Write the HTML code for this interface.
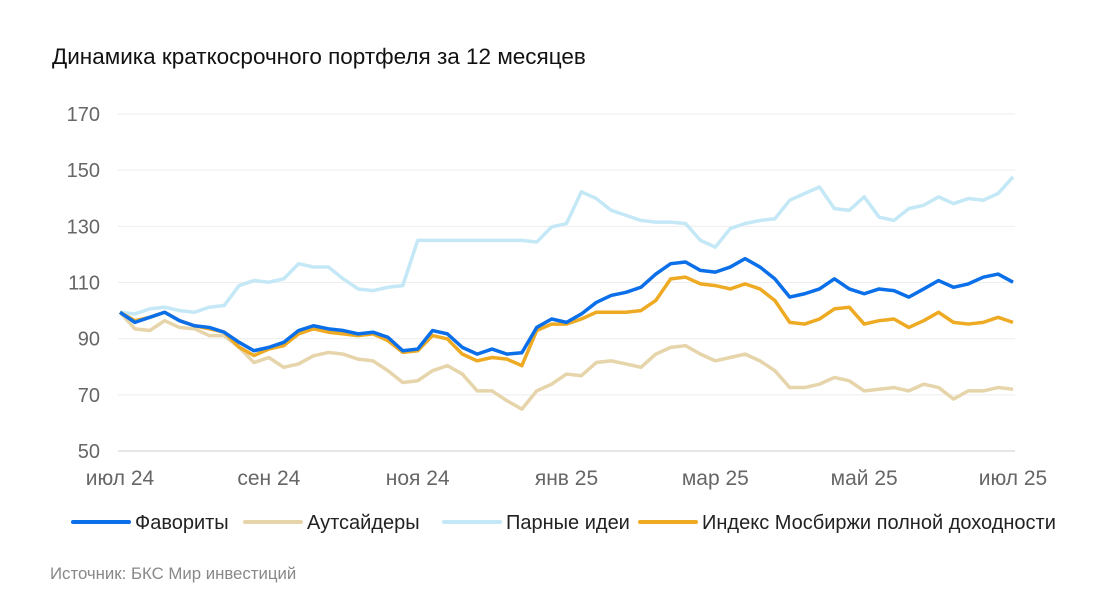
<!DOCTYPE html>
<html><head><meta charset="utf-8"><style>
body{margin:0;background:#fff;font-family:"Liberation Sans",sans-serif;}
svg{display:block}
</style></head><body>
<svg width="1095" height="612">
<text x="52" y="64" font-size="22.5" fill="#111">Динамика краткосрочного портфеля за 12 месяцев</text>
<g id="grid"></g><g id="lines"></g><g id="labels"></g>
<g id="legend"></g>
<text x="50" y="579" font-size="16.8" fill="#888">Источник: БКС Мир инвестиций</text>
</svg>
<script>
const yTicks=[50,70,90,110,130,150,170];
const xTickLabels=["июл 24","сен 24","ноя 24","янв 25","мар 25","май 25","июл 25"];
const favorites=[99.4,95.8,97.6,99.4,96.4,94.6,94,92.3,88.7,85.7,86.9,88.7,92.9,94.6,93.5,92.9,91.7,92.3,90.5,85.7,86.3,92.9,91.7,86.9,84.5,86.3,84.5,85,94,97,95.8,98.8,102.9,105.4,106.5,108.3,113,116.7,117.3,114.3,113.7,115.5,118.5,115.5,111.3,104.8,106,107.7,111.3,107.7,106,107.7,107.1,104.8,107.7,110.7,108.3,109.5,111.9,113,110.1];
const index=[99.4,96.4,97.6,99.4,96.4,94.6,93.5,92.3,87,84,86.3,87.5,91.7,93.5,92.3,91.7,91.1,91.7,89.3,85.1,85.7,91.1,89.9,84.5,82.1,83.3,82.7,80.4,92.9,95.2,95.2,97,99.4,99.4,99.4,100,103.6,111.3,111.9,109.5,108.9,107.7,109.5,107.7,103.6,95.8,95.2,97,100.6,101.2,95.2,96.4,97,94,96.4,99.4,95.8,95.2,95.8,97.6,95.8];
const outsiders=[99.4,93.5,92.9,96.4,94,93.5,91.1,91.1,86.9,81.5,83.3,79.8,81,83.9,85.1,84.5,82.7,82.1,78.6,74.4,75,78.6,80.4,77.4,71.4,71.4,67.9,64.9,71.4,73.8,77.4,76.8,81.5,82.1,81,79.8,84.5,86.9,87.5,84.5,82.1,83.3,84.5,82.1,78.6,72.6,72.6,73.8,76.2,75,71.4,72,72.6,71.4,73.8,72.6,68.5,71.4,71.4,72.6,72];
const pairs=[99.4,98.8,100.6,101.2,100,99.4,101.2,101.8,108.9,110.7,110.1,111.3,116.7,115.5,115.5,111.3,107.7,107.1,108.3,108.9,125,125,125,125,125,125,125,125,124.4,129.8,131,142.3,139.9,135.7,133.9,132.1,131.5,131.5,131,125,122.6,129.2,131,132.1,132.7,139.3,141.7,144,136.3,135.7,140.5,133.3,132.1,136.3,137.5,140.5,138.1,139.9,139.3,141.7,147.6];
const X0=120,X1=1013,Y0=451,Y1=114;
const yS=v=>Y0-(v-50)/120*(Y0-Y1);
const xS=i=>X0+i*(X1-X0)/(favorites.length-1);
const xT=j=>X0+j*(X1-X0)/(xTickLabels.length-1);
const NS="http://www.w3.org/2000/svg";
function mk(t,a,p){const e=document.createElementNS(NS,t);for(const k in a)e.setAttribute(k,a[k]);p.appendChild(e);return e;}
const grid=document.getElementById('grid'),labels=document.getElementById('labels'),lines=document.getElementById('lines'),legend=document.getElementById('legend');
yTicks.forEach(v=>{
 const l=mk('line',{x1:118,x2:1015,y1:yS(v),y2:yS(v),stroke:v===50?'#ccc':'#eee','stroke-width':1},grid);
 
 
 const t=mk('text',{x:100,y:yS(v)+7,'text-anchor':'end','font-size':20,fill:'#666'},labels);
 t.textContent=v;
 
 
});
xTickLabels.forEach((s,j)=>{
 const t=mk('text',{x:xT(j),y:485,'text-anchor':'middle','font-size':21,fill:'#666'},labels);
 t.textContent=s;
 
 
});
const series=[[outsiders,'#e6d4aa','outsiders'],[pairs,'#c4e8f6','pairs'],[index,'#eeaa22','index'],[favorites,'#0a6fe8','favorites']];
series.forEach(([d,c,n])=>{
 const p=mk('polyline',{points:d.map((v,i)=>xS(i)+','+yS(v)).join(' '),fill:'none',stroke:c,'stroke-width':3.5,'stroke-linejoin':'round'},lines);
 
 
});
const leg=[['Фавориты','#0a6fe8',73],['Аутсайдеры','#e6d4aa',245],['Парные идеи','#c4e8f6',444],['Индекс Мосбиржи полной доходности','#eeaa22',640]];
leg.forEach(([s,c,x])=>{
 const g=mk('g',{},legend);
 
 
 mk('line',{x1:x,x2:x+56,y1:522,y2:522,stroke:c,'stroke-width':4,'stroke-linecap':'round'},g);
 const t=mk('text',{x:x+62,y:529,'font-size':20,fill:'#222'},g);
 t.textContent=s;
});
</script>
</body></html>
